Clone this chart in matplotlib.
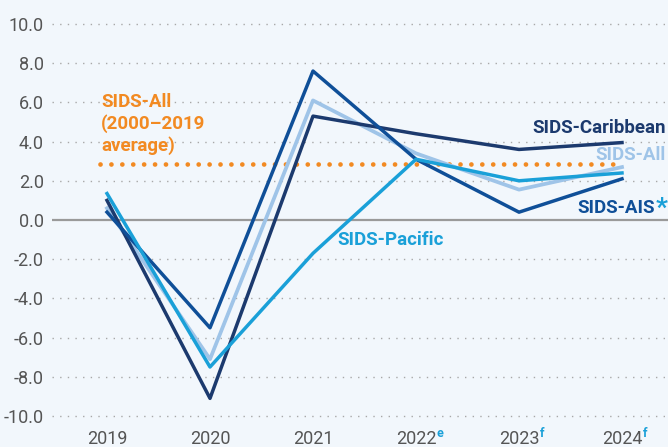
import matplotlib.pyplot as plt

# values (annual GDP growth, %)
years = [2019, 2020, 2021, 2022, 2023, 2024]
year_labels = ["2019", "2020", "2021", "2022", "2023", "2024"]
year_marks = ["", "", "", "e", "f", "f"]
sids_all = [0.6, -7.1, 6.1, 3.4, 1.55, 2.7]
sids_caribbean = [1.0, -9.1, 5.3, 4.4, 3.6, 3.95]
sids_ais = [0.4, -5.5, 7.6, 3.1, 0.4, 2.1]
sids_pacific = [1.35, -7.5, -1.7, 3.1, 2.0, 2.4]
avg_2000_2019 = 2.88
y_ticks = [-10, -8, -6, -4, -2, 0, 2, 4, 6, 8, 10]

BG = "#f2f7fc"
NAVY = "#1c3a6e"
AIS_BLUE = "#0f4f98"
LIGHT = "#9fc4e8"
CYAN = "#1aa0d8"
ORANGE = "#f28a22"
GREY_TXT = "#555555"

W, H = 668, 447
plt.rcParams["font.family"] = ["Roboto", "DejaVu Sans"]

fig = plt.figure(figsize=(W / 100, H / 100), dpi=100, facecolor=BG)
# plot area: left edge at px 52, bottom at px 420, full width/top
ax = fig.add_axes([52 / W, (H - 420) / H, 1 - 52 / W, 420 / H], facecolor=BG)

px_per_year = 103
ax.set_xlim(2019 - 55 / px_per_year, 2024 + 46 / px_per_year)
px_per_unit = 19.6
ax.set_ylim(-200 / px_per_unit, 220 / px_per_unit)

for v in y_ticks:
    if v == 0:
        ax.axhline(0, color="#9a9a9a", lw=1.6, zorder=1)
    else:
        ax.axhline(v, color="#a8a8a8", lw=1.0, ls=(0, (1, 4.5)), zorder=1)

ax.plot([years[0] - 0.07, years[-1]], [avg_2000_2019] * 2, color=ORANGE, lw=3.4,
        ls=(0, (0.01, 2.3)), dash_capstyle="round", zorder=2)

ax.plot(years, sids_all, color=LIGHT, lw=2.7, zorder=3)
ax.plot(years, sids_caribbean, color=NAVY, lw=2.5, zorder=4)
ax.plot(years, sids_ais, color=AIS_BLUE, lw=2.5, zorder=5)
ax.plot(years, sids_pacific, color=CYAN, lw=2.5, zorder=6)

for s in ax.spines.values():
    s.set_visible(False)
ax.tick_params(length=0)
ax.set_yticks(y_ticks, [f"{v:.1f}" for v in y_ticks])
ax.tick_params(axis="y", pad=6, labelsize=13, labelcolor=GREY_TXT)
ax.set_xticks(years, year_labels)
ax.tick_params(axis="x", pad=7, labelsize=13, labelcolor=GREY_TXT)
for yr, mark in zip(years, year_marks):
    if mark:
        ax.annotate(mark, xy=(yr, 0), xycoords=("data", "axes fraction"),
                    xytext=(15, -5), textcoords="offset points",
                    ha="left", va="top", fontsize=9, fontweight="bold", color=CYAN)

def ftext(x, y, s, **kw):
    fig.text(x / W, 1 - y / H, s, **kw)

lab = dict(fontsize=13.5, fontweight="bold", va="center")
ftext(666, 128, "SIDS-Caribbean", color=NAVY, ha="right", **lab)
ftext(666, 155, "SIDS-All", color=LIGHT, ha="right", **lab)
ftext(655, 208, "SIDS-AIS", color=AIS_BLUE, ha="right", **lab)
fig.text(656 / W, 1 - 197 / H, "*", color=CYAN, ha="left", va="top",
         fontsize=19, fontweight="bold")
ftext(337, 240, "SIDS-Pacific", color=CYAN, ha="left", **lab)
ftext(101, 124, "SIDS-All\n(2000\u20132019\naverage)", color=ORANGE, ha="left",
      linespacing=1.2, **lab)

fig.savefig("out.png", dpi=100, facecolor=BG)
